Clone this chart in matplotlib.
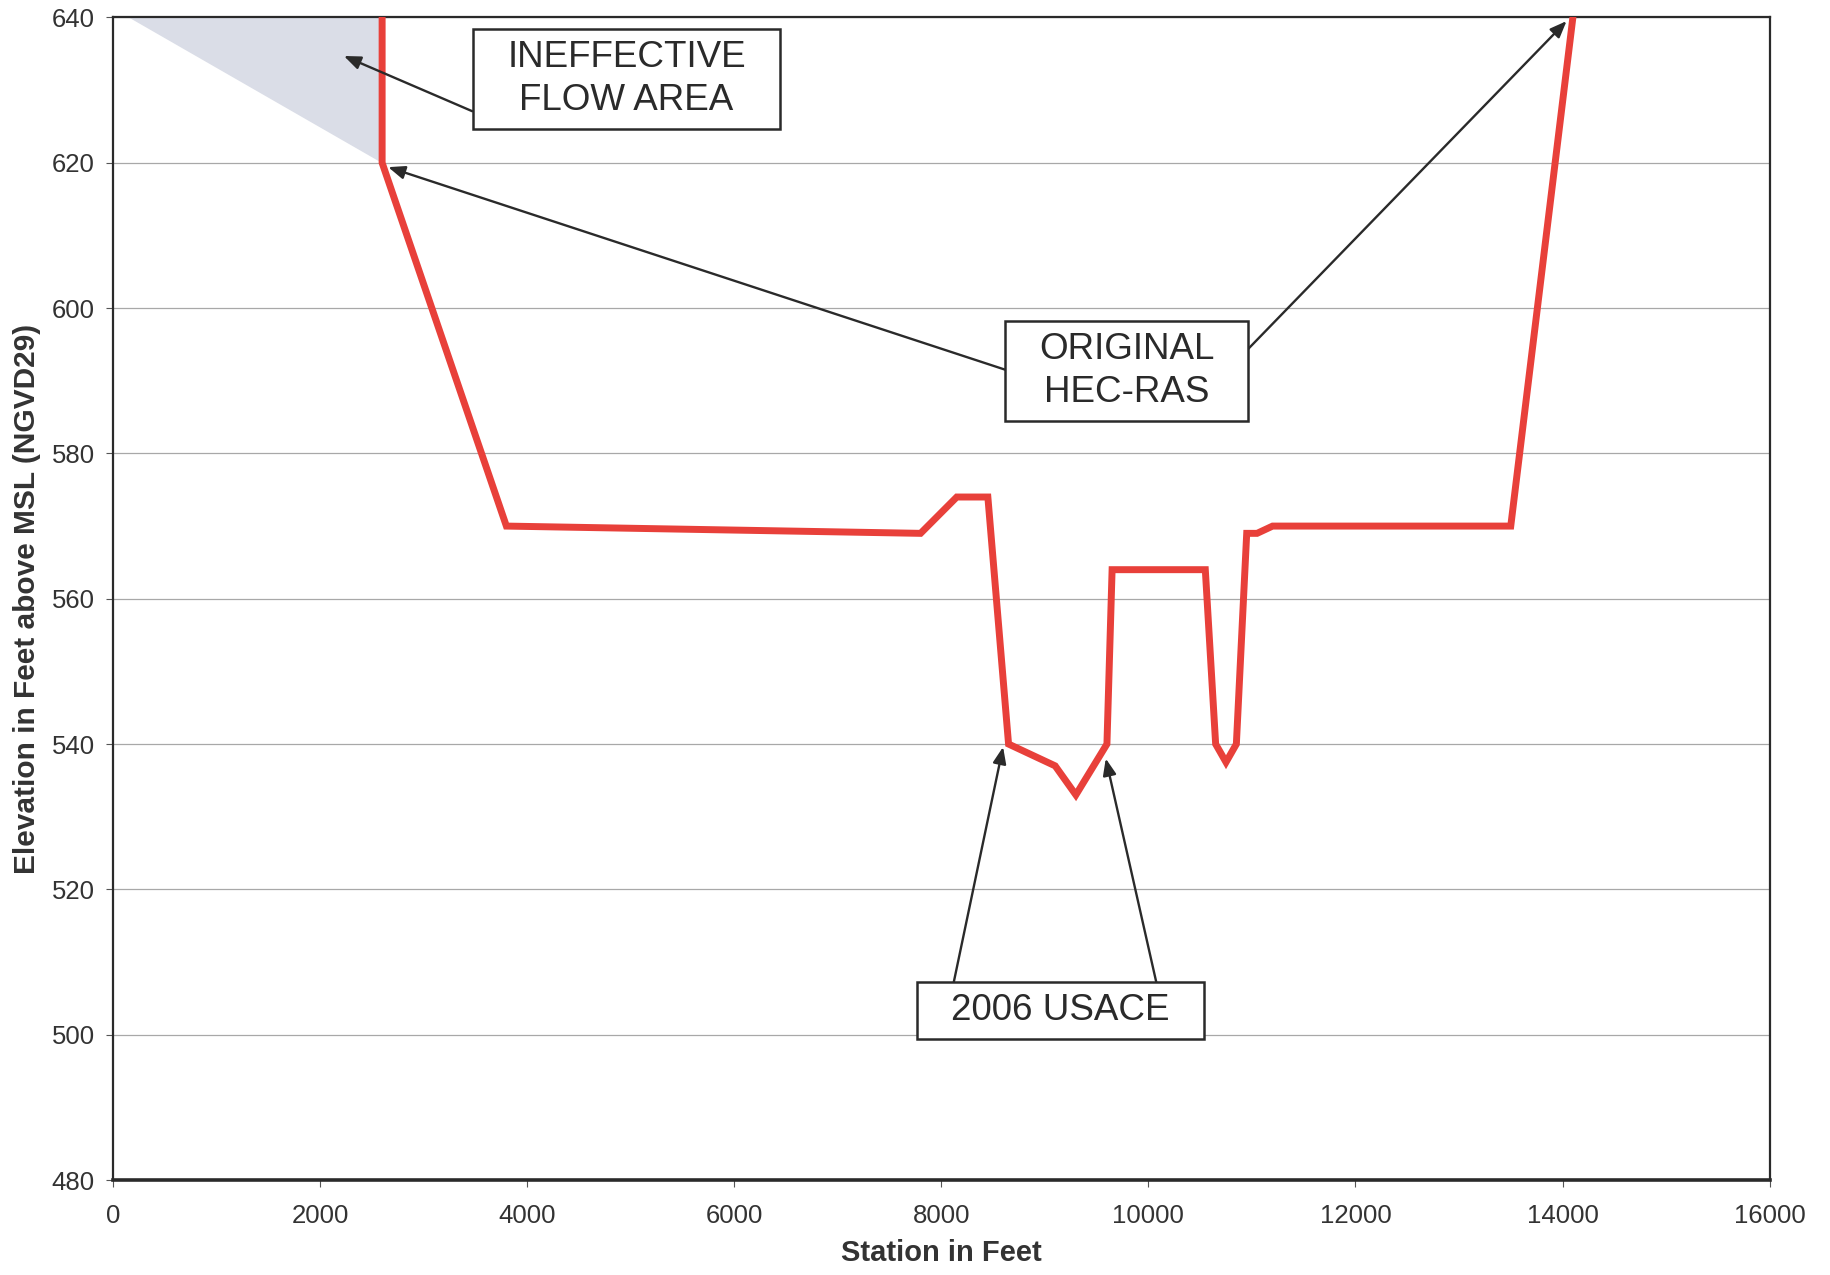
import numpy as np
import matplotlib.pyplot as plt
from matplotlib.patches import Rectangle

plt.rcParams['font.family'] = ['Liberation Sans', 'DejaVu Sans']

# cross section, station (ft) vs elevation (ft)
station = [2600, 2600, 3800, 7800, 8150, 8450, 8650, 9100, 9300, 9600, 9650,
           10550, 10650, 10750, 10850, 10950, 11050, 11200, 13500, 14100]
elev = [640, 620, 570, 569, 574, 574, 540, 537, 533, 540, 564,
        564, 540, 537.5, 540, 569, 569, 570, 570, 640]

# ineffective flow area triangle
ineff_x = [150, 2600, 2600]
ineff_y = [640, 640, 620]

# label boxes: text, x, y
labels = ["INEFFECTIVE\nFLOW AREA", "ORIGINAL\nHEC-RAS", "2006 USACE"]
label_x = [4960, 9790, 9150]
label_y = [631.5, 591.3, 503.3]

# arrows: (tail x, tail y) -> (head x, head y)
arrow_from = [(3470, 627.1), (8665, 591.3), (10918, 593.7), (8113, 506.7), (10085, 506.7)]
arrow_to = [(2231, 634.7), (2659, 619.4), (14039, 639.5), (8597, 539.6), (9589, 538.0)]

fig = plt.figure(figsize=(18.3, 12.75), dpi=100)
ax = fig.add_axes([0.0617, 0.0745, 0.9053, 0.9118])

ax.fill(ineff_x, ineff_y, color="#dadde7", lw=0, zorder=1)
ax.plot(station, elev, color="#e8403a", lw=5, solid_joinstyle="miter", zorder=3)

ax.set_xlim(0, 16000)
ax.set_ylim(480, 640)
ax.set_xticks(np.arange(0, 16001, 2000))
ax.set_yticks(np.arange(480, 641, 20))
ax.yaxis.grid(True, color="#a8a8a8", lw=0.9)
ax.set_axisbelow(True)

for s in ["left", "right", "top"]:
    ax.spines[s].set_color("#2a2a2a")
    ax.spines[s].set_linewidth(1.6)
ax.spines["bottom"].set_color("#2a2a2a")
ax.spines["bottom"].set_linewidth(2.6)

ax.tick_params(axis="both", labelsize=18.5, length=5, width=0.8, colors="#555555",
               labelcolor="#333333", pad=12)
ax.tick_params(axis="y", pad=8)

ax.set_xlabel("Station in Feet", fontsize=21, fontweight="bold", color="#333333", labelpad=8)
ax.set_ylabel("Elevation in Feet above MSL (NGVD29)", fontsize=21.5, fontweight="bold",
              color="#333333", labelpad=8)

texts = []
for t, x, y in zip(labels, label_x, label_y):
    texts.append(ax.text(x, y, t, fontsize=26.5, ha="center", va="center", color="#2a2a2a",
                         linespacing=1.3, zorder=6))

for (x0, y0), (x1, y1) in zip(arrow_from, arrow_to):
    ax.annotate("", xy=(x1, y1), xytext=(x0, y0), zorder=4,
                arrowprops=dict(arrowstyle="-|>,head_length=1.0,head_width=0.4",
                                color="#2a2a2a", lw=1.7, shrinkA=0, shrinkB=0))

# white boxes with a wide side margin round the labels
fig.canvas.draw()
r = fig.canvas.get_renderer()
for t in texts:
    bb = t.get_window_extent(r)
    padx, pady = 34, 11
    rect = Rectangle((bb.x0 - padx, bb.y0 - pady), bb.width + 2 * padx, bb.height + 2 * pady,
                     transform=None, fc="white", ec="#2a2a2a", lw=1.8, zorder=5)
    ax.add_artist(rect)

fig.savefig("out.png", dpi=100)
